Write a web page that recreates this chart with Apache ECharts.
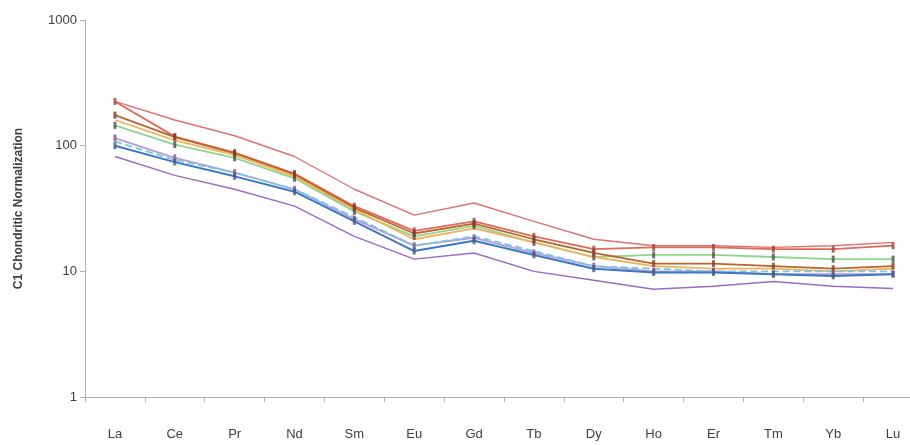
<!DOCTYPE html>
<html><head><meta charset="utf-8">
<script src="https://cdn.jsdelivr.net/npm/echarts@6/dist/echarts.min.js"></script>
<style>html,body{margin:0;padding:0;background:#fff}#c{width:910px;height:445px}</style>
</head><body><div id="c"></div>
<script>
const categories = ['La','Ce','Pr','Nd','Sm','Eu','Gd','Tb','Dy','Ho','Er','Tm','Yb','Lu'];
const envHigh = [225,160,120,82,45,28,35,25,18,16,16,15.5,16,17];
const redSeries = [225,118,88,60,33,21,25,19,15,15.5,15.5,15,15,16];
const brownSeries = [175,117,87,59,32,20,24,18,14,11.5,11.5,11,10.5,11];
const greenSeries = [145,102,80,55,30,19,23,17,13,13.5,13.5,13,12.5,12.5];
const orangeSeries = [160,110,84,57,31,18,22,17,13,11,10.5,10.5,10,10.5];
const lavenderSeries = [115,80,61,45,26,16,18.5,14,11,10,10,9.5,9.5,9.5];
const cyanSeries = [108,77,61,45,27,16,19,14.5,11,10.5,10,10,10,10];
const blueSeries = [100,74,57,43,25,14.5,17.5,13.5,10.5,9.8,9.8,9.5,9.2,9.5];
const envLow = [82,58,45,33,19,12.5,14,10,8.5,7.2,7.6,8.3,7.6,7.3];
const yTicks = [1,10,100,1000];

function line(name, data, color, opts) {
  opts = opts || {};
  return {
    name, type: 'line', data,
    symbol: opts.marker ? 'rect' : 'none',
    symbolSize: opts.marker ? [3, 7] : 0,
    itemStyle: { color: opts.markerColor || color, opacity: 0.8 },
    lineStyle: { color, width: opts.width || 1.8, type: opts.dash ? 'dashed' : 'solid' },
    z: opts.z || 2,
    animation: false
  };
}

const chart = echarts.init(document.getElementById('c'));
chart.setOption({
  backgroundColor: '#fff',
  animation: false,
  grid: { left: 85, top: 20, height: 377, width: 838, containLabel: false, outerBoundsMode: 'none' },
  xAxis: {
    type: 'category', data: categories, boundaryGap: true,
    axisLine: { lineStyle: { color: '#b0b0b0' } },
    axisTick: { show: true, length: 5, lineStyle: { color: '#b0b0b0' } },
    axisLabel: { color: '#404040', fontSize: 13, fontFamily: 'Liberation Sans', margin: 31 },
    splitLine: { show: false }
  },
  yAxis: {
    type: 'log', logBase: 10, min: 1, max: 1000,
    name: 'C1 Chondritic Normalization', nameLocation: 'middle', nameGap: 60,
    nameTextStyle: { color: '#404040', fontSize: 12, fontWeight: 'bold', fontFamily: 'Liberation Sans' },
    axisLine: { show: true, lineStyle: { color: '#b0b0b0' } },
    axisTick: { show: true, length: 5, lineStyle: { color: '#b0b0b0' } },
    axisLabel: { color: '#404040', fontSize: 13, fontFamily: 'Liberation Sans', margin: 8,
      formatter: v => (yTicks.includes(Math.round(v)) ? String(Math.round(v)) : '') },
    splitLine: { show: false },
    minorTick: { show: false }
  },
  series: [
    line('Upper', envHigh, '#e07070', { width: 1.4 }),
    line('Lower', envLow, '#9a6ac8', { width: 1.4 }),
    line('S1', redSeries, '#e06a5a', { marker: true, markerColor: '#a0443a' }),
    line('S2', greenSeries, '#8fd58f', { marker: true, markerColor: '#505050' }),
    line('S3', brownSeries, '#b8652e', { marker: true, markerColor: '#8a3a2a' }),
    line('S4', orangeSeries, '#f2b25c', { marker: false }),
    line('S5', lavenderSeries, '#b89ad8', { marker: true, markerColor: '#7a5a8a' }),
    line('S6', cyanSeries, '#78c8e0', { dash: true }),
    line('S7', blueSeries, '#3a78c4', { marker: true, markerColor: '#4a5a8a', width: 2 })
  ]
});
</script></body></html>
